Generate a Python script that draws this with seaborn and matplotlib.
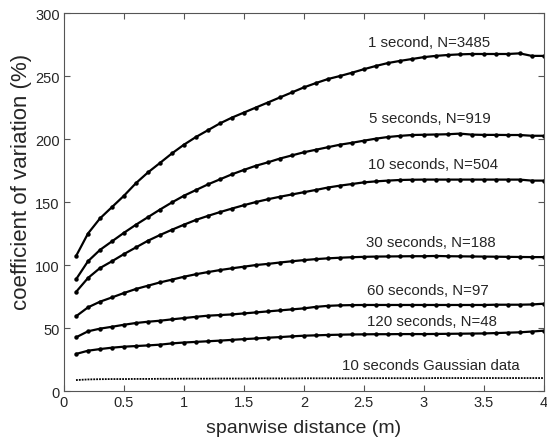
import numpy as np
import pandas as pd
import matplotlib
matplotlib.use("Agg")
import matplotlib.pyplot as plt
import seaborn as sns

distance = [round(0.1 * i, 1) for i in range(1, 41)]

cv_1s = [107, 125, 137, 146, 155, 165, 173.5, 181, 188.6, 195.5, 201.6, 207, 212.4, 217, 221, 225,
         229, 233, 237, 241, 244.4, 247.6, 250, 252.6, 255.4, 258, 260.3, 262, 263.5, 265, 266,
         266.7, 267.2, 267.5, 267.5, 267.5, 267.5, 268, 266, 266]
cv_5s = [88.6, 103, 112, 118.8, 125.6, 132, 138, 144, 149.7, 155, 159.5, 164, 168, 172, 175.5, 178.8,
         181.5, 184.5, 187, 189.5, 191.5, 193.5, 195.5, 197, 198.7, 200.3, 201.6, 202.5, 203.2,
         203.4, 203.6, 203.8, 204.3, 203.5, 203.3, 203.3, 203.2, 203.2, 202.6, 202.6]
cv_10s = [78.6, 89.7, 97.6, 103, 108.7, 114, 119.3, 123.8, 128, 132, 135.8, 139, 142, 144.8, 147.5,
          150, 152.2, 154.2, 156, 157.8, 159.6, 161.5, 163, 164.3, 165.6, 166.4, 167, 167.5, 167.7,
          167.8, 167.8, 167.8, 167.8, 167.8, 167.8, 167.8, 167.8, 167.8, 167, 167]
cv_30s = [59.3, 66.4, 70.9, 74.3, 77.8, 81, 83.6, 86.2, 88.4, 90.7, 92.7, 94.4, 96, 97.4, 98.7, 100,
          100.9, 102, 103, 103.9, 104.7, 105.3, 105.8, 106.2, 106.5, 106.7, 106.8, 106.9, 107, 107,
          107.2, 107, 106.9, 106.8, 106.7, 106.6, 106.5, 106.4, 106.3, 106.3]
cv_60s = [42.6, 47.4, 49.5, 51, 52.6, 54, 55, 55.8, 56.9, 57.9, 58.9, 59.8, 60.3, 60.8, 61.6, 62.4,
          63.2, 64, 64.8, 65.6, 66.8, 67.6, 68, 68.2, 68.3, 68.3, 68.3, 68.3, 68.3, 68.3, 68.3, 68.3,
          68.3, 68.3, 68.3, 68.5, 68.5, 68.5, 68.7, 69.3]
cv_120s = [29.4, 32, 33.3, 34.4, 35.2, 35.7, 36.2, 36.8, 37.8, 38.5, 39, 39.5, 40, 40.6, 41.2, 41.7,
           42.3, 42.8, 43.4, 43.9, 44.2, 44.5, 44.7, 44.9, 45, 45.1, 45.1, 45.2, 45.2, 45.2, 45.3,
           45.4, 45.5, 45.6, 45.7, 46, 46.3, 46.6, 47.2, 47.9]
cv_gauss = [8.7, 9.2, 9.4, 9.5, 9.5, 9.6, 9.6, 9.7, 9.7, 9.8, 9.8, 9.8, 9.9, 9.9, 9.9, 10.0, 10.0,
            10.0, 10.0, 10.1, 10.1, 10.1, 10.1, 10.1, 10.2, 10.2, 10.2, 10.2, 10.2, 10.2, 10.3, 10.3,
            10.3, 10.3, 10.3, 10.3, 10.3, 10.3, 10.3, 10.3]

series_labels = ["1 second, N=3485", "5 seconds, N=919", "10 seconds, N=504",
                 "30 seconds, N=188", "60 seconds, N=97", "120 seconds, N=48"]
label_x = [3.04, 3.05, 3.08, 3.06, 3.03, 3.07]
label_y = [277, 217, 180, 118, 80, 55.5]
gauss_label = "10 seconds Gaussian data"
gauss_label_pos = (3.06, 21)

x_ticks = [0, 0.5, 1, 1.5, 2, 2.5, 3, 3.5, 4]
x_tick_labels = ["0", "0.5", "1", "1.5", "2", "2.5", "3", "3.5", "4"]
y_ticks = [0, 50, 100, 150, 200, 250, 300]

sns.set_style("ticks")
plt.rcParams["font.family"] = ["Liberation Sans", "DejaVu Sans"]

all_series = [cv_1s, cv_5s, cv_10s, cv_30s, cv_60s, cv_120s]
df = pd.concat([pd.DataFrame({"distance": distance, "cv": s, "series": lab})
                for s, lab in zip(all_series, series_labels)], ignore_index=True)
df_g = pd.DataFrame({"distance": distance, "cv": cv_gauss})

fig = plt.figure(figsize=(5.47, 4.39), dpi=100)
ax = fig.add_axes([0.117, 0.107, 0.877, 0.861])

sns.lineplot(data=df, x="distance", y="cv", units="series", estimator=None,
             color="black", lw=1.6, marker="o", markersize=3.2, markeredgewidth=0,
             ax=ax, legend=False)
sns.lineplot(data=df_g, x="distance", y="cv", color="black", lw=1.3,
             linestyle=(0, (1, 0.6)), ax=ax, legend=False)

for lab, lx, ly in zip(series_labels, label_x, label_y):
    ax.text(lx, ly, lab, ha="center", va="center", fontsize=10.8)
ax.text(gauss_label_pos[0], gauss_label_pos[1], gauss_label, ha="center", va="center", fontsize=10.8)

ax.set_xlim(0, 4)
ax.set_ylim(0, 300)
ax.set_xticks(x_ticks)
ax.set_xticklabels(x_tick_labels)
ax.set_yticks(y_ticks)
ax.tick_params(direction="in", top=True, right=True, length=4, width=0.8,
               color="#555555", labelsize=10.5, pad=3)
for sp in ax.spines.values():
    sp.set_visible(True)
    sp.set_color("#555555")
    sp.set_linewidth(0.8)
ax.set_xlabel("spanwise distance (m)", fontsize=14, labelpad=7)
ax.set_ylabel("coefficient of variation (%)", fontsize=16)
ax.yaxis.set_label_coords(-0.066, 0.555)

fig.savefig("out.png", dpi=100)
